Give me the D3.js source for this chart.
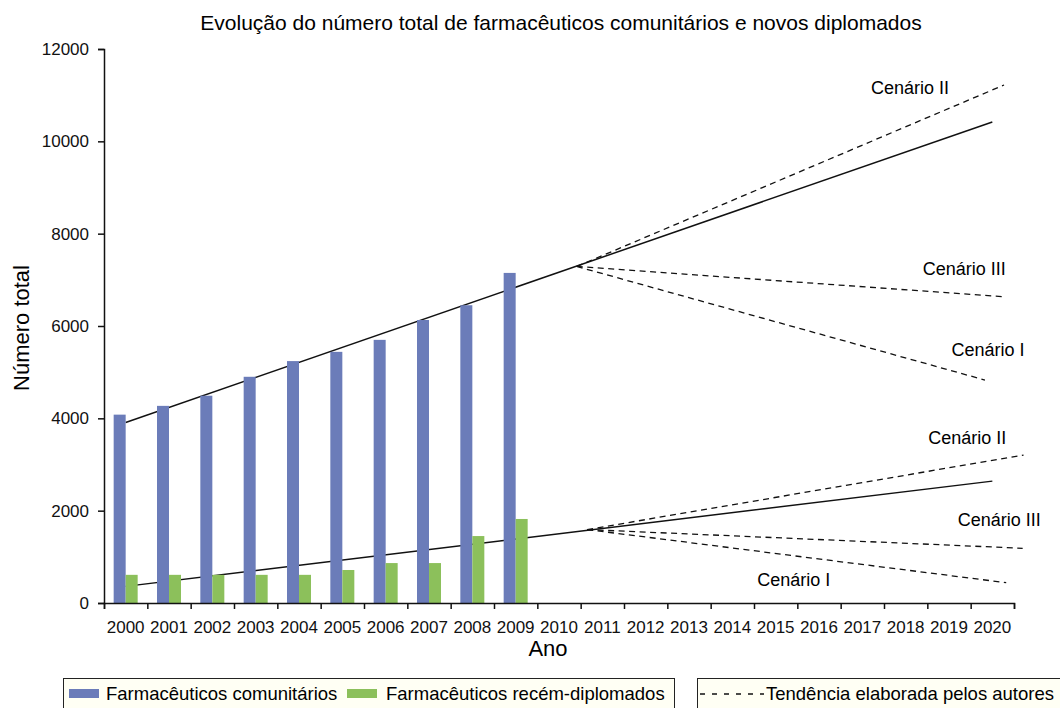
<!DOCTYPE html>
<html>
<head>
<meta charset="utf-8">
<script src="https://cdn.jsdelivr.net/npm/d3@7"></script>
<style>
  body { margin: 0; background: #fff; }
  svg { font-family: "Liberation Sans", Arial, Helvetica, sans-serif; }
  .narrow { font-family: "Liberation Sans Narrow", "Arial Narrow", "Liberation Sans", sans-serif; }
</style>
</head>
<body>
<div id="chart"></div>
<script>
// anos e valores
const years = d3.range(2000, 2021).map(String);
const yTicks = [0, 2000, 4000, 6000, 8000, 10000, 12000];

const barYears = ["2000","2001","2002","2003","2004","2005","2006","2007","2008","2009"];
const comunitarios = [4080, 4270, 4490, 4900, 5240, 5440, 5700, 6130, 6450, 7150];
const diplomados = [610, 610, 610, 610, 610, 715, 865, 865, 1450, 1820];

// linhas de tendencia (ano, valor)
const trendComunitarios = [[2000, 3910], [2020, 10420]];
const trendDiplomados = [[2000, 360], [2020, 2640]];

const scenComunitarios = [
    [[2010.41, 7290], [2020.27, 11220]],  // II
    [[2010.41, 7290], [2020.32, 6630]],   // III
    [[2010.41, 7290], [2019.83, 4830]]    // I
];
const scenDiplomados = [
    [[2010.65, 1590], [2020.72, 3205]],   // II
    [[2010.65, 1590], [2020.70, 1185]],   // III
    [[2010.65, 1590], [2020.32, 440]]     // I
];

const scenLabels = [
    {text: "Cenário II", year: 2018.1, value: 11150},
    {text: "Cenário III", year: 2019.35, value: 7235},
    {text: "Cenário I", year: 2019.9, value: 5480},
    {text: "Cenário II", year: 2019.42, value: 3575},
    {text: "Cenário III", year: 2020.16, value: 1800},
    {text: "Cenário I", year: 2015.42, value: 500}
];

const seriesNames = ["Farmacêuticos comunitários", "Farmacêuticos recém-diplomados"];
const colors = ["#6b7cb9", "#8cc05b"];

const width = 1060, height = 708;
const margin = { left: 104, right: 1014, top: 49, bottom: 603 };

const svg = d3.select("#chart").append("svg")
    .attr("width", width)
    .attr("height", height);

const x = d3.scaleBand().domain(years).range([margin.left, margin.right]);
const xT = d3.scaleLinear().domain([1999.5, 2020.5]).range([margin.left, margin.right]);
const y = d3.scaleLinear().domain([0, 12000]).range([margin.bottom, margin.top]);
const inner = d3.scaleBand().domain([0, 1]).range([0, 24]);
const off = (x.bandwidth() - 24) / 2;

// linhas (por baixo das barras)
const line = d3.line().x(d => xT(d[0])).y(d => y(d[1]));

svg.selectAll(".trend")
    .data([trendComunitarios, trendDiplomados])
    .enter().append("path")
    .attr("d", line)
    .attr("fill", "none")
    .attr("stroke", "#111")
    .attr("stroke-width", 1.5);

svg.selectAll(".scen")
    .data(scenComunitarios.concat(scenDiplomados))
    .enter().append("path")
    .attr("d", line)
    .attr("fill", "none")
    .attr("stroke", "#111")
    .attr("stroke-width", 1.3)
    .attr("stroke-dasharray", "6,4.5");

// barras
[comunitarios, diplomados].forEach((vals, k) => {
    svg.selectAll(".bar" + k)
        .data(vals)
        .enter().append("rect")
        .attr("x", (d, i) => x(barYears[i]) + off + inner(k))
        .attr("y", d => y(d))
        .attr("width", inner.bandwidth())
        .attr("height", d => margin.bottom - y(d))
        .attr("fill", colors[k]);
});

// eixos
const yAxis = svg.append("g")
    .attr("transform", `translate(${margin.left},0)`)
    .call(d3.axisLeft(y).tickValues(yTicks).tickFormat(d3.format("d")).tickSize(6).tickPadding(9));
yAxis.selectAll("text").style("font-size", "17px").attr("fill", "#111");

const xAxis = svg.append("g")
    .attr("transform", `translate(0,${margin.bottom})`)
    .call(d3.axisBottom(x).tickSize(0).tickPadding(18));
xAxis.selectAll("text").attr("class", "narrow").style("font-size", "17px").attr("fill", "#111");
xAxis.select(".domain").remove();

svg.append("g")
    .attr("transform", `translate(0,${margin.bottom})`)
    .call(d3.axisBottom(xT).tickValues(d3.range(1999.5, 2021, 1)).tickSize(6).tickFormat(""));

svg.selectAll(".domain, .tick line").attr("stroke", "#111").attr("stroke-width", 1.5);

// textos
svg.append("text")
    .attr("x", 561).attr("y", 30)
    .attr("text-anchor", "middle")
    .style("font-size", "21px")
    .text("Evolução do número total de farmacêuticos comunitários e novos diplomados");

svg.append("text")
    .attr("class", "narrow")
    .attr("x", 548).attr("y", 656)
    .attr("text-anchor", "middle")
    .style("font-size", "22px")
    .text("Ano");

svg.append("text")
    .attr("transform", "translate(29,328) rotate(-90)")
    .attr("text-anchor", "middle")
    .style("font-size", "22px")
    .text("Número total");

svg.selectAll(".scenLabel")
    .data(scenLabels)
    .enter().append("text")
    .attr("x", d => xT(d.year))
    .attr("y", d => y(d.value))
    .attr("text-anchor", "middle")
    .attr("dominant-baseline", "central")
    .style("font-size", "18px")
    .text(d => d.text);

// legenda
const leg1 = svg.append("g");
leg1.append("rect")
    .attr("x", 63.5).attr("y", 678.5).attr("width", 611).attr("height", 40)
    .attr("fill", "#fffff4").attr("stroke", "#222").attr("stroke-width", 1);
const swatchX = [69, 347], textX = [106, 386];
seriesNames.forEach((name, k) => {
    leg1.append("rect")
        .attr("x", swatchX[k]).attr("y", 689).attr("width", 30).attr("height", 9)
        .attr("fill", colors[k]);
    leg1.append("text")
        .attr("x", textX[k]).attr("y", 700)
        .style("font-size", "18.5px")
        .text(name);
});

const leg2 = svg.append("g");
leg2.append("rect")
    .attr("x", 697.5).attr("y", 678.5).attr("width", 380).attr("height", 40)
    .attr("fill", "#fffff4").attr("stroke", "#222").attr("stroke-width", 1);
leg2.append("line")
    .attr("x1", 700).attr("x2", 764).attr("y1", 694).attr("y2", 694)
    .attr("stroke", "#111").attr("stroke-width", 1.3)
    .attr("stroke-dasharray", "5,7");
leg2.append("text")
    .attr("x", 766).attr("y", 700)
    .style("font-size", "18.5px")
    .text("Tendência elaborada pelos autores");
</script>
</body>
</html>
